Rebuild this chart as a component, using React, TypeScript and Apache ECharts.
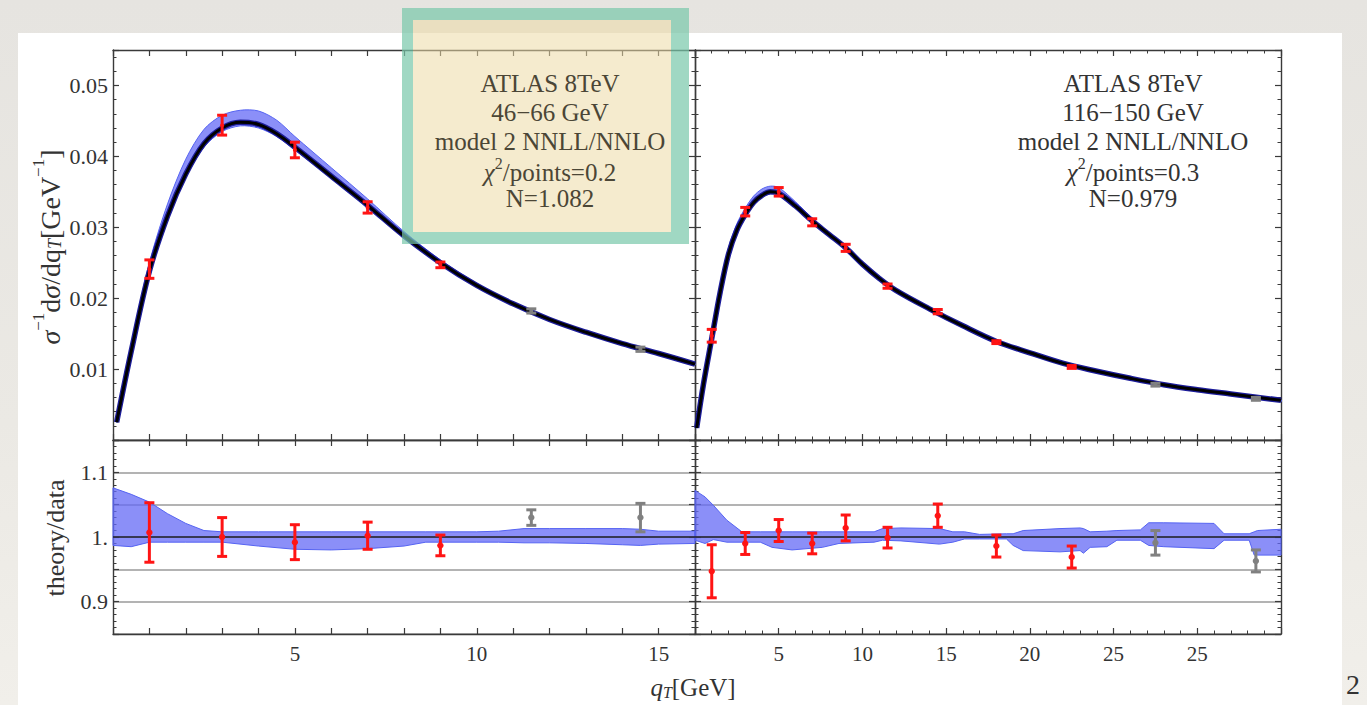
import React, { useEffect, useRef } from "react";
import * as echarts from "echarts";

const W = 1367;
const H = 705;
const SERIF = "'Liberation Serif', 'DejaVu Serif', serif";
const AX = "#3a3a3a";

// ---------- tick labels ----------
const leftXTickLabels = ["5", "10", "15"]; // at 5, 10, 15
const rightXTickLabels = ["5", "10", "15", "20", "25", "25"]; // at 5 .. 30
const topYTickLabels = ["0.01", "0.02", "0.03", "0.04", "0.05"];
const ratioYTickLabels = ["0.9", "1.", "1.1"];

// ---------- top-left: 46-66 GeV ----------
const tlCurveQ = [0.1, 0.5, 1, 1.5, 2, 2.5, 3, 3.5, 4, 4.5, 5, 6, 7, 8, 9, 10, 11, 12, 13, 14, 15, 16];
const tlCurve = [0.0025, 0.0125, 0.0238, 0.0316, 0.0375, 0.0418, 0.044, 0.0448, 0.0445, 0.0432, 0.0413, 0.0372, 0.0331, 0.0288, 0.025, 0.0218, 0.0192, 0.017, 0.0152, 0.0136, 0.0122, 0.0107];
const tlBandLow = [0.0024, 0.0122, 0.0234, 0.0311, 0.037, 0.0413, 0.0435, 0.0443, 0.044, 0.0428, 0.0409, 0.0369, 0.0328, 0.0286, 0.0248, 0.0217, 0.0191, 0.0169, 0.0151, 0.0135, 0.0121, 0.0106];
const tlBandHigh = [0.0027, 0.0133, 0.025, 0.0333, 0.0396, 0.0438, 0.0458, 0.0465, 0.0464, 0.0451, 0.0428, 0.0384, 0.034, 0.0294, 0.0254, 0.0221, 0.0194, 0.0172, 0.0153, 0.0137, 0.0123, 0.0108];
const tlDataQ = [1, 3, 5, 7, 9];
const tlDataV = [0.0241, 0.0444, 0.0409, 0.0328, 0.0247];
const tlDataErr = [0.0013, 0.0014, 0.0011, 0.0008, 0.0004];
const tlExtraQ = [11.5, 14.5];
const tlExtraV = [0.0182, 0.0128];
const tlExtraErr = [0.0003, 0.0003];

// ---------- top-right: 116-150 GeV ----------
const trCurveQ = [0.1, 0.5, 1, 1.5, 2, 2.5, 3, 3.5, 4, 4.5, 5, 6, 7, 8, 9, 10, 11, 12, 14, 16, 18, 20, 22, 24, 26, 28, 30, 32, 35];
const trCurve = [0.0017, 0.0078, 0.0143, 0.0208, 0.0262, 0.0296, 0.0318, 0.0335, 0.0345, 0.035, 0.0348, 0.033, 0.0309, 0.029, 0.0271, 0.0248, 0.0228, 0.0211, 0.0185, 0.0161, 0.0139, 0.0123, 0.0108, 0.0097, 0.0087, 0.0078, 0.0071, 0.0065, 0.0056];
const trBandLow = [0.0016, 0.0075, 0.014, 0.0205, 0.0259, 0.0293, 0.0315, 0.0332, 0.0342, 0.0347, 0.0345, 0.0327, 0.0307, 0.0288, 0.0269, 0.0246, 0.0226, 0.0209, 0.0183, 0.0159, 0.0137, 0.0121, 0.0106, 0.0095, 0.0085, 0.0076, 0.0069, 0.0063, 0.0054];
const trBandHigh = [0.0018, 0.0082, 0.015, 0.0216, 0.0271, 0.0305, 0.0327, 0.0344, 0.0354, 0.0358, 0.0356, 0.0336, 0.0313, 0.0293, 0.0273, 0.025, 0.023, 0.0213, 0.0186, 0.0162, 0.014, 0.0124, 0.0109, 0.0098, 0.0088, 0.0079, 0.0072, 0.0066, 0.0057];
const trDataQ = [1, 3, 5, 7, 9, 11.5, 14.5, 18, 22.5];
const trDataV = [0.0147, 0.0322, 0.035, 0.0307, 0.0271, 0.0217, 0.0181, 0.0138, 0.0103];
const trDataErr = [0.0009, 0.0006, 0.0006, 0.0005, 0.0005, 0.0003, 0.0003, 0.0002, 0.0002];
const trExtraQ = [27.5, 33.5];
const trExtraV = [0.0078, 0.0058];
const trExtraErr = [0.0002, 0.0002];

// ---------- bottom-left ratio ----------
const blBandQ = [0, 0.5, 1, 1.5, 2, 2.5, 3, 4, 5, 6, 7, 8, 8.6, 9, 10, 10.6, 11.3, 12, 13, 14, 14.5, 15, 16];
const blBandHigh = [1.076, 1.066, 1.054, 1.036, 1.021, 1.01, 1.008, 1.008, 1.008, 1.008, 1.008, 1.008, 1.008, 1.008, 1.008, 1.009, 1.013, 1.013, 1.013, 1.013, 1.012, 1.009, 1.009];
const blBandLow = [0.987, 0.985, 0.992, 0.992, 0.992, 0.992, 0.992, 0.986, 0.981, 0.98, 0.982, 0.986, 0.992, 0.992, 0.992, 0.992, 0.991, 0.991, 0.99, 0.988, 0.987, 0.989, 0.99];
const blDataQ = [1, 3, 5, 7, 9];
const blDataV = [1.007, 1.0, 0.992, 1.002, 0.987];
const blDataErr = [0.046, 0.03, 0.027, 0.021, 0.016];
const blExtraQ = [11.5, 14.5];
const blExtraV = [1.03, 1.03];
const blExtraErr = [0.012, 0.022];

// ---------- bottom-right ratio ----------
const brBandQ = [0, 0.6, 1.1, 1.9, 2.8, 3.9, 4.6, 5.8, 7.6, 8.6, 10.7, 11.2, 12.3, 14.6, 15.4, 16.1, 17, 18.6, 19, 19.6, 21.8, 23, 23.2, 23.6, 24.6, 25.2, 26.6, 27.1, 28, 31, 31.6, 33.1, 33.4, 33.6, 35];
const brBandHigh = [1.072, 1.062, 1.049, 1.026, 1.008, 1.008, 1.008, 1.008, 1.008, 1.008, 1.008, 1.013, 1.014, 1.013, 1.008, 1.008, 1.004, 1.005, 1.005, 1.01, 1.013, 1.014, 1.013, 1.008, 1.009, 1.01, 1.011, 1.022, 1.022, 1.021, 1.005, 1.005, 1.008, 1.01, 1.012];
const brBandLow = [0.995, 0.99, 0.996, 0.992, 0.992, 0.992, 0.984, 0.98, 0.984, 0.99, 0.992, 0.995, 0.994, 0.989, 0.992, 0.997, 0.997, 0.997, 0.987, 0.979, 0.977, 0.979, 0.975, 0.984, 0.985, 0.995, 0.995, 0.987, 0.985, 0.982, 0.995, 0.995, 0.972, 0.972, 0.972];
const brDataQ = [1, 3, 5, 7, 9, 11.5, 14.5, 18, 22.5];
const brDataV = [0.947, 0.99, 1.01, 0.99, 1.014, 0.999, 1.033, 0.986, 0.969];
const brDataErr = [0.041, 0.017, 0.017, 0.016, 0.02, 0.016, 0.018, 0.017, 0.017];
const brExtraQ = [27.5, 33.5];
const brExtraV = [0.991, 0.963];
const brExtraErr = [0.019, 0.017];

// ---------- annotations ----------
const leftNoteLines = ["ATLAS 8TeV", "46\u221266 GeV", "model 2 NNLL/NNLO", "0.2", "N=1.082"];
const rightNoteLines = ["ATLAS 8TeV", "116\u2212150 GeV", "model 2 NNLL/NNLO", "0.3", "N=0.979"];

const RED = "#ff1414";
const GRAY = "#808080";
const BAND = "rgba(100,105,246,0.75)";
const BAND_EDGE = "#5563f2";

const zip = (a: number[], b: number[]) => a.map((v, i) => [v, b[i]]);
const zip3 = (a: number[], b: number[], c: number[]) => a.map((v, i) => [v, b[i], c[i]]);

function xAxes(grid: number, min: number, max: number, interval: number, minor: number, showLabel: boolean, fmt: (v: number) => string) {
  const common: any = {
    type: "value",
    gridIndex: grid,
    min,
    max,
    interval,
    axisLine: { show: true, onZero: false, lineStyle: { color: AX, width: 1.4 } },
    axisTick: { show: true, inside: true, length: 6, lineStyle: { color: AX, width: 1.2 } },
    minorTick: { show: minor > 0, splitNumber: minor || 5, length: 3.5, lineStyle: { color: AX, width: 1 } },
    splitLine: { show: false },
  };
  return [
    { ...common, position: "bottom", axisLabel: { show: showLabel, formatter: fmt, margin: 9, color: "#333", fontSize: 21, fontFamily: SERIF } },
    { ...common, position: "top", axisLabel: { show: false } },
  ];
}

function yAxes(grid: number, min: number, max: number, interval: number, showLabel: boolean, fmt: (v: number) => string, split: boolean) {
  const common: any = {
    type: "value",
    gridIndex: grid,
    min,
    max,
    interval,
    axisLine: { show: true, onZero: false, lineStyle: { color: AX, width: 1.4 } },
    axisTick: { show: true, inside: true, length: 6, lineStyle: { color: AX, width: 1.2 } },
    minorTick: { show: true, splitNumber: 5, length: 3.5, lineStyle: { color: AX, width: 1 } },
  };
  return [
    {
      ...common,
      position: "left",
      splitLine: { show: split, lineStyle: { color: "#9a9a9a", width: 1.6 } },
      axisLabel: { show: showLabel, formatter: fmt, margin: 5, color: "#333", fontSize: 22, fontFamily: SERIF },
    },
    { ...common, position: "right", splitLine: { show: false }, axisLabel: { show: false } },
  ];
}

const fmtLeftX = (v: number) => (v % 5 === 0 && v >= 5 && v <= 15 ? leftXTickLabels[v / 5 - 1] : "");
const fmtRightX = (v: number) => (v % 5 === 0 && v >= 5 && v <= 30 ? rightXTickLabels[v / 5 - 1] : "");
const fmtTopY = (v: number) => {
  const k = Math.round(v / 0.01);
  return Math.abs(v - k * 0.01) < 1e-9 && k >= 1 && k <= 5 ? topYTickLabels[k - 1] : "";
};
const fmtRatioY = (v: number) => {
  const k = Math.round((v - 0.9) / 0.1);
  return Math.abs(v - (0.9 + 0.1 * k)) < 1e-6 && k >= 0 && k <= 2 ? ratioYTickLabels[k] : "";
};

function errSeries(axis: number, q: number[], v: number[], e: number[], color: string, cap: number, dotR: number) {
  return {
    type: "custom",
    xAxisIndex: axis,
    yAxisIndex: axis,
    z: 6,
    encode: { x: 0, y: 1 },
    data: zip3(q, v, e),
    renderItem: (_p: any, api: any) => {
      const x = api.value(0);
      const y = api.value(1);
      const err = api.value(2);
      const top = api.coord([x, y + err]);
      const bot = api.coord([x, y - err]);
      const mid = api.coord([x, y]);
      const st = { stroke: color, lineWidth: 3 };
      return {
        type: "group",
        children: [
          { type: "line", shape: { x1: top[0], y1: top[1], x2: bot[0], y2: bot[1] }, style: st },
          { type: "line", shape: { x1: top[0] - cap, y1: top[1], x2: top[0] + cap, y2: top[1] }, style: st },
          { type: "line", shape: { x1: bot[0] - cap, y1: bot[1], x2: bot[0] + cap, y2: bot[1] }, style: st },
          { type: "circle", shape: { cx: mid[0], cy: mid[1], r: dotR }, style: { fill: color } },
        ],
      };
    },
  };
}

// band drawn as one polygon through the axes' own coordinate conversion
function bandSeries(axis: number, q: number[], low: number[], high: number[], smooth: number, withOne: boolean) {
  const s: any = {
    type: "custom",
    xAxisIndex: axis,
    yAxisIndex: axis,
    z: 2,
    encode: { x: 0, y: [1, 2] },
    data: zip3(q, low, high),
    renderItem: (params: any, api: any) => {
      if (params.dataIndex !== 0) return null;
      const upper = q.map((x, i) => api.coord([x, high[i]]));
      const lower = q.map((x, i) => api.coord([x, low[i]])).reverse();
      if (smooth > 0) {
        return {
          type: "group",
          children: [
            { type: "polyline", shape: { points: upper.concat(lower), smooth }, style: { fill: BAND, stroke: BAND_EDGE, lineWidth: 1 } },
          ],
        };
      }
      return {
        type: "group",
        children: [
          { type: "polygon", shape: { points: upper.concat(lower) }, style: { fill: BAND, stroke: BAND_EDGE, lineWidth: 1 } },
        ],
      };
    },
  };
  const out: any[] = [s];
  if (withOne) {
    out.push({
      type: "line",
      xAxisIndex: axis,
      yAxisIndex: axis,
      z: 3,
      symbol: "none",
      data: [],
      markLine: {
        silent: true,
        symbol: "none",
        data: [{ yAxis: 1 }],
        lineStyle: { color: "#222", width: 1.6, type: "solid" },
        label: { show: false },
      },
    });
  }
  return out;
}

function curveSeries(axis: number, q: number[], v: number[]) {
  const base: any = { type: "line", xAxisIndex: axis, yAxisIndex: axis, symbol: "none", smooth: 0.35, data: zip(q, v) };
  return [
    { ...base, z: 3, lineStyle: { color: "#1c1c9a", width: 5.5 } },
    { ...base, z: 4, lineStyle: { color: "#000", width: 3 } },
  ];
}

function noteTexts(cx: number, lines: string[], color: string) {
  const ys = [83, 112, 141, 170, 198];
  return lines.map((t, i) => {
    if (i === 3) {
      return {
        type: "text",
        x: cx,
        y: ys[i],
        z: 20,
        style: {
          text: "{i|\u03c7}{s|2}{n|/points=" + t + "}",
          align: "center",
          verticalAlign: "middle",
          fill: color,
          rich: {
            i: { fontSize: 25, fontFamily: SERIF, fontStyle: "italic", fill: color, lineHeight: 30, verticalAlign: "bottom" },
            s: { fontSize: 16, fontFamily: SERIF, fill: color, lineHeight: 16, verticalAlign: "top" },
            n: { fontSize: 25, fontFamily: SERIF, fill: color, lineHeight: 30, verticalAlign: "bottom" },
          },
        },
      };
    }
    return {
      type: "text",
      x: cx,
      y: ys[i],
      z: 20,
      style: { text: t, font: "25px " + SERIF, fill: color, align: "center", verticalAlign: "middle" },
    };
  });
}

function buildOption(): any {
  const grids = [
    { left: 113, top: 50, width: 582, height: 390 },
    { left: 695, top: 50, width: 586, height: 390 },
    { left: 113, top: 440, width: 582, height: 194 },
    { left: 695, top: 440, width: 586, height: 194 },
  ].map((g) => ({ ...g, show: false, containLabel: false }));

  const xAxis = [
    ...xAxes(0, 0, 16, 1, 0, false, fmtLeftX),
    ...xAxes(1, 0, 35, 5, 5, false, fmtRightX),
    ...xAxes(2, 0, 16, 1, 0, true, fmtLeftX),
    ...xAxes(3, 0, 35, 5, 5, true, fmtRightX),
  ];
  const yAxis = [
    ...yAxes(0, 0, 0.055, 0.01, true, fmtTopY, false),
    ...yAxes(1, 0, 0.055, 0.01, false, fmtTopY, false),
    ...yAxes(2, 0.85, 1.15, 0.05, true, fmtRatioY, true),
    ...yAxes(3, 0.85, 1.15, 0.05, false, fmtRatioY, true),
  ];

  const series: any[] = [
    ...bandSeries(0, tlCurveQ, tlBandLow, tlBandHigh, 0.3, false),
    ...curveSeries(0, tlCurveQ, tlCurve),
    errSeries(0, tlDataQ, tlDataV, tlDataErr, RED, 5, 2),
    errSeries(0, tlExtraQ, tlExtraV, tlExtraErr, GRAY, 5, 2),

    ...bandSeries(2, trCurveQ, trBandLow, trBandHigh, 0.3, false),
    ...curveSeries(2, trCurveQ, trCurve),
    errSeries(2, trDataQ, trDataV, trDataErr, RED, 5, 2),
    errSeries(2, trExtraQ, trExtraV, trExtraErr, GRAY, 5, 2),

    ...bandSeries(4, blBandQ, blBandLow, blBandHigh, 0, true),
    errSeries(4, blDataQ, blDataV, blDataErr, RED, 5, 3.2),
    errSeries(4, blExtraQ, blExtraV, blExtraErr, GRAY, 5, 3.2),

    ...bandSeries(6, brBandQ, brBandLow, brBandHigh, 0, true),
    errSeries(6, brDataQ, brDataV, brDataErr, RED, 5, 3.2),
    errSeries(6, brExtraQ, brExtraV, brExtraErr, GRAY, 5, 3.2),
  ];

  const noteColor = "#4b4636";
  const TEAL = "rgba(120,200,170,0.7)";
  const graphic: any[] = [
    // y-axis title (top)
    {
      type: "text",
      x: 47,
      y: 247,
      rotation: Math.PI / 2,
      style: {
        text: "{g|\u03c3}{s|\u22121}{n|d}{g|\u03c3}{n|/dq}{t|T}{n|[GeV}{s|\u22121}{n|]}",
        align: "center",
        verticalAlign: "middle",
        fill: "#333",
        rich: {
          n: { fontSize: 28, fontFamily: SERIF, fill: "#333", lineHeight: 34, verticalAlign: "bottom" },
          g: { fontSize: 28, fontFamily: SERIF, fontStyle: "italic", fill: "#333", lineHeight: 34, verticalAlign: "bottom" },
          s: { fontSize: 17, fontFamily: SERIF, fill: "#333", lineHeight: 18, verticalAlign: "top" },
          t: { fontSize: 18, fontFamily: SERIF, fontStyle: "italic", fill: "#333", lineHeight: 24, verticalAlign: "bottom" },
        },
      },
    },
    // y-axis title (bottom)
    {
      type: "text",
      x: 55,
      y: 538,
      rotation: Math.PI / 2,
      style: { text: "theory/data", font: "26px " + SERIF, fill: "#333", align: "center", verticalAlign: "middle" },
    },
    // x-axis title
    {
      type: "text",
      x: 693,
      y: 685,
      style: {
        text: "{i|q}{t|T}{n|[GeV]}",
        align: "center",
        verticalAlign: "middle",
        fill: "#333",
        rich: {
          i: { fontSize: 25, fontFamily: SERIF, fontStyle: "italic", fill: "#333", lineHeight: 30, verticalAlign: "bottom" },
          t: { fontSize: 16, fontFamily: SERIF, fontStyle: "italic", fill: "#333", lineHeight: 22, verticalAlign: "bottom" },
          n: { fontSize: 25, fontFamily: SERIF, fill: "#333", lineHeight: 30, verticalAlign: "bottom" },
        },
      },
    },
    // sticky note on the left panel: teal frame + beige sheet
    { type: "rect", z: 15, shape: { x: 402, y: 8, width: 287, height: 12 }, style: { fill: TEAL } },
    { type: "rect", z: 15, shape: { x: 402, y: 232, width: 287, height: 12 }, style: { fill: TEAL } },
    { type: "rect", z: 15, shape: { x: 402, y: 20, width: 11, height: 212 }, style: { fill: TEAL } },
    { type: "rect", z: 15, shape: { x: 671, y: 20, width: 18, height: 212 }, style: { fill: TEAL } },
    { type: "rect", z: 16, shape: { x: 413, y: 20, width: 258, height: 212 }, style: { fill: "rgba(236,218,165,0.55)" } },
    ...noteTexts(550, leftNoteLines, noteColor),
    ...noteTexts(1133, rightNoteLines, "#333"),
    // page number
    { type: "text", x: 1346, y: 670, style: { text: "2", font: "28px " + SERIF, fill: "#333" } },
  ];

  return {
    animation: false,
    backgroundColor: "transparent",
    textStyle: { fontFamily: SERIF },
    grid: grids,
    xAxis,
    yAxis,
    series,
    graphic,
  };
}

export default function App() {
  const ref = useRef<HTMLDivElement>(null);
  useEffect(() => {
    if (!ref.current) return;
    const chart = echarts.init(ref.current, undefined, { renderer: "svg", width: W, height: H });
    chart.setOption(buildOption());
    return () => chart.dispose();
  }, []);
  return (
    <div style={{ position: "fixed", left: 0, top: 0, width: W, height: H, overflow: "hidden", background: "linear-gradient(180deg, #e6e4e0 0%, #ebe9e4 60%, #f1efea 100%)" }}>
      <div style={{ position: "absolute", left: 18, top: 33, width: 1324, height: 680, background: "#ffffff" }} />
      <div ref={ref} style={{ position: "absolute", left: 0, top: 0, width: W, height: H }} />
    </div>
  );
}
